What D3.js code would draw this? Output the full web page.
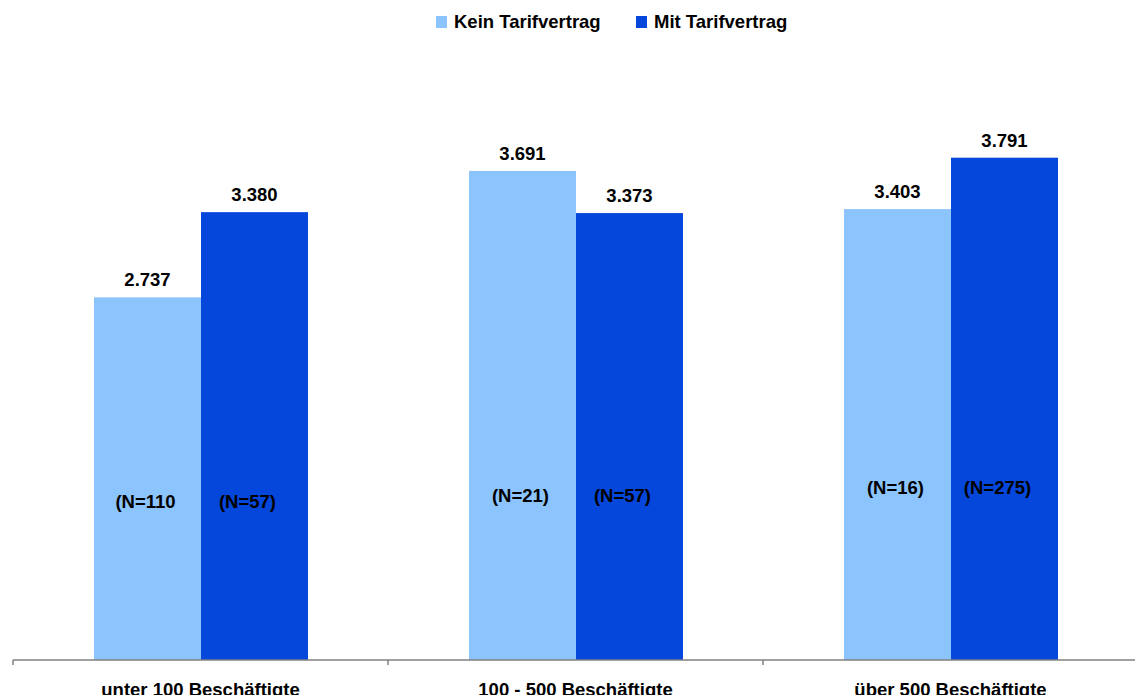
<!DOCTYPE html>
<html>
<head>
<meta charset="utf-8">
<style>
  body { margin: 0; background: #fff; }
  svg { display: block; font-family: "Liberation Sans", Arial, sans-serif; font-weight: bold; }
</style>
</head>
<body>
<svg width="1135" height="695"></svg>
<script src="https://d3js.org/d3.v7.min.js"></script>
<script>

// chart data
var categories = ["unter 100 Beschäftigte", "100 - 500 Beschäftigte", "über 500 Beschäftigte"];
var series = ["Kein Tarifvertrag", "Mit Tarifvertrag"];
var kein = [2.737, 3.691, 3.403];
var mit = [3.380, 3.373, 3.791];
var nKein = ["(N=110", "(N=21)", "(N=16)"];
var nMit = ["(N=57)", "(N=57)", "(N=275)"];

var colors = ["#8cc4fd", "#0546db"];
var fontSize = 18.5;

var svg = d3.select("svg"),
    width = +svg.attr("width"),
    height = +svg.attr("height");

var x0 = d3.scaleBand()
    .domain(categories)
    .range([13, 1138]);

var x1 = d3.scaleBand()
    .domain(series)
    .range([81, 295]);

var y = d3.scaleLinear()
    .domain([0, 4])
    .range([660, 130]);

// baseline of the (N=..) labels per group, in value units (free floating text boxes)
var nLabelAt = [1.147, 1.19, 1.25];
// the N boxes sit a little left of the bar centres
var nShift = [-2, -7];

var rows = categories.map(function(c, i) {
  return { cat: c, values: [kein[i], mit[i]], ns: [nKein[i], nMit[i]], nAt: nLabelAt[i] };
});

var group = svg.selectAll(".group")
  .data(rows)
  .enter().append("g")
    .attr("class", "group")
    .attr("transform", function(d) { return "translate(" + x0(d.cat) + ",0)"; });

var bar = group.selectAll(".bar")
  .data(function(d) {
    return series.map(function(s, j) { return { s: s, j: j, v: d.values[j], n: d.ns[j], nAt: d.nAt }; });
  })
  .enter().append("g")
    .attr("class", "bar");

bar.append("rect")
    .attr("x", function(d) { return x1(d.s); })
    .attr("y", function(d) { return y(d.v); })
    .attr("width", x1.bandwidth())
    .attr("height", function(d) { return y(0) - y(d.v); })
    .attr("fill", function(d) { return colors[d.j]; });

var fmt = d3.format(".3f");

bar.append("text")
    .attr("x", function(d) { return x1(d.s) + x1.bandwidth() / 2; })
    .attr("y", function(d) { return y(d.v) - 11; })
    .attr("text-anchor", "middle")
    .attr("font-size", fontSize)
    .attr("fill", "#000")
    .text(function(d) { return fmt(d.v); });

bar.append("text")
    .attr("x", function(d) { return x1(d.s) + x1.bandwidth() / 2 + nShift[d.j]; })
    .attr("y", function(d) { return y(d.nAt); })
    .attr("text-anchor", "middle")
    .attr("font-size", fontSize)
    .attr("fill", "#000")
    .text(function(d) { return d.n; });

// x axis
var axis = svg.append("g")
    .attr("transform", "translate(0," + y(0) + ")")
    .call(d3.axisBottom(x0).tickSize(0).tickFormat(""));
axis.select(".domain").remove();
axis.append("line")
    .attr("x1", 13).attr("x2", 1138)
    .attr("stroke", "#808080")
    .attr("stroke-width", 1.5);
axis.selectAll(".sep")
  .data(categories)
  .enter().append("line")
    .attr("class", "sep")
    .attr("x1", function(d) { return x0(d); })
    .attr("x2", function(d) { return x0(d); })
    .attr("y1", 0).attr("y2", 5)
    .attr("stroke", "#808080")
    .attr("stroke-width", 1.5);

svg.append("g").selectAll("text")
  .data(categories)
  .enter().append("text")
    .attr("x", function(d) { return x0(d) + x0.bandwidth() / 2; })
    .attr("y", 696)
    .attr("text-anchor", "middle")
    .attr("font-size", fontSize)
    .attr("fill", "#000")
    .text(function(d) { return d; });

// legend
var legend = svg.append("g");
var lx = [436, 636];
series.forEach(function(s, j) {
  legend.append("rect")
      .attr("x", lx[j]).attr("y", 16)
      .attr("width", 11).attr("height", 12)
      .attr("fill", colors[j]);
  legend.append("text")
      .attr("x", lx[j] + 18).attr("y", 28)
      .attr("font-size", fontSize)
      .attr("fill", "#000")
      .text(s);
});

</script>
</body>
</html>
